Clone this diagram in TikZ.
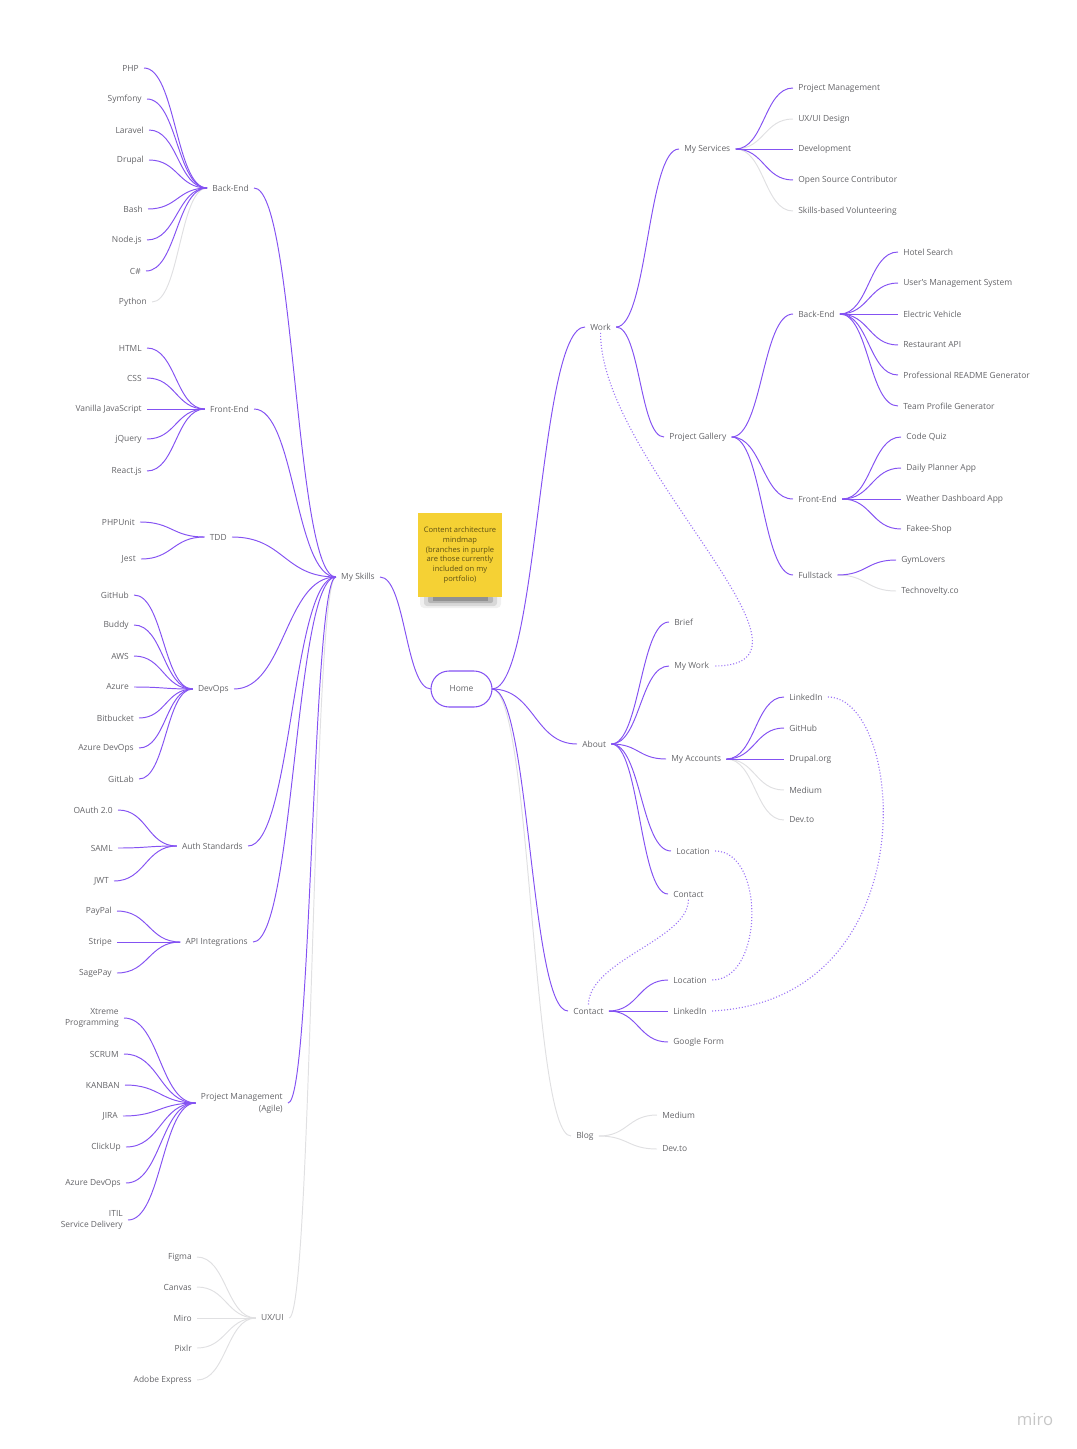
\documentclass[tikz,border=0pt]{standalone}
\usepackage{fontspec}
\setmainfont{Open Sans}
\usetikzlibrary{calc}
\definecolor{lilac}{RGB}{132,82,242}
\definecolor{faintgray}{RGB}{224,224,226}
\definecolor{inkgray}{RGB}{100,100,104}
\definecolor{notey}{RGB}{245,209,52}
\tikzset{
	swoop/.style={to path={let \p1=(\tikztostart), \p2=(\tikztotarget), \p3=($(\p1)!0.5!(\p2)$) in .. controls (\x3,\y1) and (\x3,\y2) .. (\tikztotarget)}},
}

\begin{document}
\begin{tikzpicture}[x=0.02cm, y=-0.02cm,
		txt/.style={font=\fontsize{4.8}{6.8}\selectfont, text=inkgray, inner xsep=3pt, inner ysep=1.5pt, outer sep=0pt},
		line/.style={line width=0.55pt, color=lilac},
		faint/.style={line width=0.55pt, color=faintgray},
		dots/.style={line width=0.65pt, color=lilac!80, dash pattern=on 0.6pt off 1.1pt}]
			%%%%% START %%%%%
			
			\useasboundingbox (0,0) rectangle (1077,1449);
			
			% note and centre
			\fill[black, opacity=0.06, rounded corners=0.08cm] (420,592) rectangle (501,608);
			\fill[black, opacity=0.10, rounded corners=0.06cm] (424,594) rectangle (497,606);
			\fill[black, opacity=0.16, rounded corners=0.04cm] (428,596) rectangle (493,603);
			\fill[black, opacity=0.20] (433,597) rectangle (488,601);
			\node[fill=notey, minimum width=1.64cm, minimum height=1.68cm, align=center, font=\fontsize{4.3}{5.6}\selectfont, text=black!62!notey] (note) at (460,555) {Content architecture\\mindmap\\(branches in purple\\are those currently\\included on my\\portfolio)};
			\node[txt, draw=lilac, line width=0.6pt, rounded corners=0.36cm, minimum width=1.22cm, minimum height=0.72cm] (home) at (461.5,689) {Home};
			
			% left side
			\node[txt, anchor=east] (skills) at (380,577) {My Skills};
			
			\node[txt, anchor=east] (bkend) at (254,188) {Back-End};
			\node[txt, anchor=east] (php) at (144,68) {PHP};
			\node[txt, anchor=east] (symfony) at (147,99) {Symfony};
			\node[txt, anchor=east] (laravel) at (149,130) {Laravel};
			\node[txt, anchor=east] (drupal) at (149,160) {Drupal};
			\node[txt, anchor=east] (bash) at (148,209) {Bash};
			\node[txt, anchor=east] (nodejs) at (147,240) {Node.js};
			\node[txt, anchor=east] (csharp) at (146,271) {C\#};
			\node[txt, anchor=east] (python) at (152,302) {Python};
			
			\node[txt, anchor=east] (frend) at (254,409) {Front-End};
			\node[txt, anchor=east] (html) at (147,348) {HTML};
			\node[txt, anchor=east] (css) at (147,378) {CSS};
			\node[txt, anchor=east] (vanilla) at (147,409) {Vanilla JavaScript};
			\node[txt, anchor=east] (jquery) at (147,439) {jQuery};
			\node[txt, anchor=east] (react) at (147,471) {React.js};
			
			\node[txt, anchor=east] (tdd) at (232,537) {TDD};
			\node[txt, anchor=east] (phpunit) at (140,522) {PHPUnit};
			\node[txt, anchor=east] (jest) at (141,559) {Jest};
			
			\node[txt, anchor=east] (devops) at (234,689) {DevOps};
			\node[txt, anchor=east] (github) at (134,595) {GitHub};
			\node[txt, anchor=east] (buddy) at (134,625) {Buddy};
			\node[txt, anchor=east] (aws) at (134,656) {AWS};
			\node[txt, anchor=east] (azure) at (134,687) {Azure};
			\node[txt, anchor=east] (bitbucket) at (139,718) {Bitbucket};
			\node[txt, anchor=east] (azdevops) at (139,748) {Azure DevOps};
			\node[txt, anchor=east] (gitlab) at (139,779) {GitLab};
			
			\node[txt, anchor=east] (auth) at (248,846) {Auth Standards};
			\node[txt, anchor=east] (oauth) at (118,810) {OAuth 2.0};
			\node[txt, anchor=east] (saml) at (118,848) {SAML};
			\node[txt, anchor=east] (jwt) at (114,881) {JWT};
			
			\node[txt, anchor=east] (api) at (253,942) {API Integrations};
			\node[txt, anchor=east] (paypal) at (117,911) {PayPal};
			\node[txt, anchor=east] (stripe) at (117,942) {Stripe};
			\node[txt, anchor=east] (sagepay) at (117,973) {SagePay};
			
			\node[txt, anchor=east, align=right] (agile) at (288,1103) {Project Management\\(Agile)};
			\node[txt, anchor=east, align=right] (xp) at (124,1018) {Xtreme\\Programming};
			\node[txt, anchor=east] (scrum) at (124,1054) {SCRUM};
			\node[txt, anchor=east] (kanban) at (125,1085) {KANBAN};
			\node[txt, anchor=east] (jira) at (123,1116) {JIRA};
			\node[txt, anchor=east] (clickup) at (126,1147) {ClickUp};
			\node[txt, anchor=east] (azdo) at (126,1183) {Azure DevOps};
			\node[txt, anchor=east, align=right] (itil) at (128,1220) {ITIL\\Service Delivery};
			
			\node[txt, anchor=east] (uxui) at (289,1318) {UX/UI};
			\node[txt, anchor=east] (figma) at (197,1257) {Figma};
			\node[txt, anchor=east] (canvas) at (197,1287) {Canvas};
			\node[txt, anchor=east] (miro) at (197,1318) {Miro};
			\node[txt, anchor=east] (pixlr) at (197,1348) {Pixlr};
			\node[txt, anchor=east] (adobe) at (197,1380) {Adobe Express};
			
			% right side
			\node[txt, anchor=west] (work) at (585,327) {Work};
			
			\node[txt, anchor=west] (services) at (679,149) {My Services};
			\node[txt, anchor=west] (svcpm) at (793,88) {Project Management};
			\node[txt, anchor=west] (svcux) at (793,119) {UX/UI Design};
			\node[txt, anchor=west] (svcdev) at (793,149) {Development};
			\node[txt, anchor=west] (svcos) at (793,180) {Open Source Contributor};
			\node[txt, anchor=west] (svcvol) at (793,211) {Skills-based Volunteering};
			
			\node[txt, anchor=west] (gallery) at (664,437) {Project Gallery};
			\node[txt, anchor=west] (galback) at (793,314) {Back-End};
			\node[txt, anchor=west] (hotel) at (898,252) {Hotel Search};
			\node[txt, anchor=west] (users) at (898,283) {User's Management System};
			\node[txt, anchor=west] (ev) at (898,314) {Electric Vehicle};
			\node[txt, anchor=west] (resto) at (898,345) {Restaurant API};
			\node[txt, anchor=west] (readme) at (898,375) {Professional README Generator};
			\node[txt, anchor=west] (team) at (898,406) {Team Profile Generator};
			
			\node[txt, anchor=west] (galfront) at (793,499) {Front-End};
			\node[txt, anchor=west] (quiz) at (901,437) {Code Quiz};
			\node[txt, anchor=west] (planner) at (901,468) {Daily Planner App};
			\node[txt, anchor=west] (weather) at (901,499) {Weather Dashboard App};
			\node[txt, anchor=west] (fakee) at (901,529) {Fakee-Shop};
			
			\node[txt, anchor=west] (fullstack) at (793,575) {Fullstack};
			\node[txt, anchor=west] (gym) at (896,560) {GymLovers};
			\node[txt, anchor=west] (techno) at (896,591) {Technovelty.co};
			
			\node[txt, anchor=west] (about) at (577,744) {About};
			\node[txt, anchor=west] (brief) at (669,622) {Brief};
			\node[txt, anchor=west] (mywork) at (669,666) {My Work};
			\node[txt, anchor=west] (accounts) at (666,759) {My Accounts};
			\node[txt, anchor=west] (acclinked) at (784,697) {LinkedIn};
			\node[txt, anchor=west] (accgithub) at (784,728) {GitHub};
			\node[txt, anchor=west] (accdrupal) at (784,759) {Drupal.org};
			\node[txt, anchor=west] (accmedium) at (784,790) {Medium};
			\node[txt, anchor=west] (accdevto) at (784,820) {Dev.to};
			\node[txt, anchor=west] (location) at (671,851) {Location};
			\node[txt, anchor=west] (aboutcontact) at (668,894) {Contact};
			
			\node[txt, anchor=west] (contact) at (568,1011) {Contact};
			\node[txt, anchor=west] (conlocation) at (668,980) {Location};
			\node[txt, anchor=west] (conlinked) at (668,1011) {LinkedIn};
			\node[txt, anchor=west] (conform) at (668,1042) {Google Form};
			
			\node[txt, anchor=west] (blog) at (571,1136) {Blog};
			\node[txt, anchor=west] (blogmedium) at (657,1115) {Medium};
			\node[txt, anchor=west] (blogdevto) at (657,1149) {Dev.to};
			
			% grey branches
			\draw[faint] (bkend.west) to[swoop] (python.east);
			\draw[faint] (skills.west) to[swoop] (uxui.east);
			\draw[faint] (uxui.west) to[swoop] (figma.east);
			\draw[faint] (uxui.west) to[swoop] (canvas.east);
			\draw[faint] (uxui.west) to[swoop] (miro.east);
			\draw[faint] (uxui.west) to[swoop] (pixlr.east);
			\draw[faint] (uxui.west) to[swoop] (adobe.east);
			\draw[faint] (services.east) to[swoop] (svcux.west);
			\draw[faint] (services.east) to[swoop] (svcvol.west);
			\draw[faint] (fullstack.east) to[swoop] (techno.west);
			\draw[faint] (accounts.east) to[swoop] (accmedium.west);
			\draw[faint] (accounts.east) to[swoop] (accdevto.west);
			\draw[faint] (home.east) to[swoop] (blog.west);
			\draw[faint] (blog.east) to[swoop] (blogmedium.west);
			\draw[faint] (blog.east) to[swoop] (blogdevto.west);
			
			% purple branches, left
			\draw[line] (home.west) to[swoop] (skills.east);
			\draw[line] (skills.west) to[swoop] (bkend.east);
			\draw[line] (skills.west) to[swoop] (frend.east);
			\draw[line] (skills.west) to[swoop] (tdd.east);
			\draw[line] (skills.west) to[swoop] (devops.east);
			\draw[line] (skills.west) to[swoop] (auth.east);
			\draw[line] (skills.west) to[swoop] (api.east);
			\draw[line] (skills.west) to[swoop] (agile.east);
			
			\draw[line] (bkend.west) to[swoop] (php.east);
			\draw[line] (bkend.west) to[swoop] (symfony.east);
			\draw[line] (bkend.west) to[swoop] (laravel.east);
			\draw[line] (bkend.west) to[swoop] (drupal.east);
			\draw[line] (bkend.west) to[swoop] (bash.east);
			\draw[line] (bkend.west) to[swoop] (nodejs.east);
			\draw[line] (bkend.west) to[swoop] (csharp.east);
			
			\draw[line] (frend.west) to[swoop] (html.east);
			\draw[line] (frend.west) to[swoop] (css.east);
			\draw[line] (frend.west) to[swoop] (vanilla.east);
			\draw[line] (frend.west) to[swoop] (jquery.east);
			\draw[line] (frend.west) to[swoop] (react.east);
			
			\draw[line] (tdd.west) to[swoop] (phpunit.east);
			\draw[line] (tdd.west) to[swoop] (jest.east);
			
			\draw[line] (devops.west) to[swoop] (github.east);
			\draw[line] (devops.west) to[swoop] (buddy.east);
			\draw[line] (devops.west) to[swoop] (aws.east);
			\draw[line] (devops.west) to[swoop] (azure.east);
			\draw[line] (devops.west) to[swoop] (bitbucket.east);
			\draw[line] (devops.west) to[swoop] (azdevops.east);
			\draw[line] (devops.west) to[swoop] (gitlab.east);
			
			\draw[line] (auth.west) to[swoop] (oauth.east);
			\draw[line] (auth.west) to[swoop] (saml.east);
			\draw[line] (auth.west) to[swoop] (jwt.east);
			
			\draw[line] (api.west) to[swoop] (paypal.east);
			\draw[line] (api.west) to[swoop] (stripe.east);
			\draw[line] (api.west) to[swoop] (sagepay.east);
			
			\draw[line] (agile.west) to[swoop] (xp.east);
			\draw[line] (agile.west) to[swoop] (scrum.east);
			\draw[line] (agile.west) to[swoop] (kanban.east);
			\draw[line] (agile.west) to[swoop] (jira.east);
			\draw[line] (agile.west) to[swoop] (clickup.east);
			\draw[line] (agile.west) to[swoop] (azdo.east);
			\draw[line] (agile.west) to[swoop] (itil.east);
			
			% purple branches, right
			\draw[line] (home.east) to[swoop] (work.west);
			\draw[line] (home.east) to[swoop] (about.west);
			\draw[line] (home.east) to[swoop] (contact.west);
			
			\draw[line] (work.east) to[swoop] (services.west);
			\draw[line] (work.east) to[swoop] (gallery.west);
			\draw[line] (services.east) to[swoop] (svcpm.west);
			\draw[line] (services.east) to[swoop] (svcdev.west);
			\draw[line] (services.east) to[swoop] (svcos.west);
			
			\draw[line] (gallery.east) to[swoop] (galback.west);
			\draw[line] (gallery.east) to[swoop] (galfront.west);
			\draw[line] (gallery.east) to[swoop] (fullstack.west);
			\draw[line] (galback.east) to[swoop] (hotel.west);
			\draw[line] (galback.east) to[swoop] (users.west);
			\draw[line] (galback.east) to[swoop] (ev.west);
			\draw[line] (galback.east) to[swoop] (resto.west);
			\draw[line] (galback.east) to[swoop] (readme.west);
			\draw[line] (galback.east) to[swoop] (team.west);
			\draw[line] (galfront.east) to[swoop] (quiz.west);
			\draw[line] (galfront.east) to[swoop] (planner.west);
			\draw[line] (galfront.east) to[swoop] (weather.west);
			\draw[line] (galfront.east) to[swoop] (fakee.west);
			\draw[line] (fullstack.east) to[swoop] (gym.west);
			
			\draw[line] (about.east) to[swoop] (brief.west);
			\draw[line] (about.east) to[swoop] (mywork.west);
			\draw[line] (about.east) to[swoop] (accounts.west);
			\draw[line] (about.east) to[swoop] (location.west);
			\draw[line] (about.east) to[swoop] (aboutcontact.west);
			\draw[line] (accounts.east) to[swoop] (acclinked.west);
			\draw[line] (accounts.east) to[swoop] (accgithub.west);
			\draw[line] (accounts.east) to[swoop] (accdrupal.west);
			
			\draw[line] (contact.east) to[swoop] (conlocation.west);
			\draw[line] (contact.east) to[swoop] (conlinked.west);
			\draw[line] (contact.east) to[swoop] (conform.west);
			
			% dotted cross links
			\draw[dots] (work.south) .. controls +(0,130) and +(130,0) .. (mywork.east);
			\draw[dots] (acclinked.east) .. controls +(77,0) and +(218,-11) .. (conlinked.east);
			\draw[dots] (location.east) .. controls +(50,0) and +(52,0) .. (conlocation.east);
			\draw[dots] (aboutcontact.south) .. controls +(0,40) and +(0,-45) .. (contact.north);
			
			\node[font=\fontsize{9.5}{11}\selectfont, text=black!22] (brand) at (1035,1419) {miro};
			
			%%%%% END %%%%%
		\end{tikzpicture}
\end{document}
